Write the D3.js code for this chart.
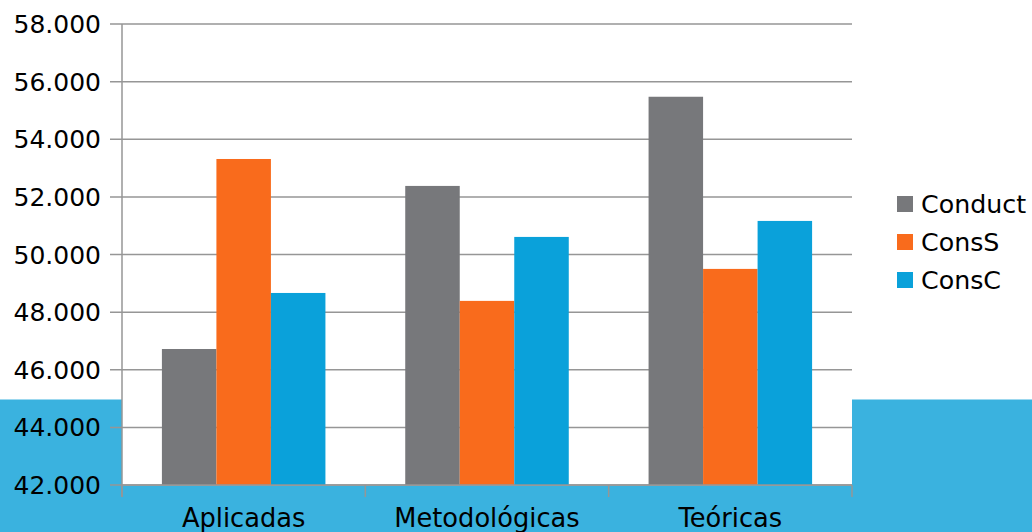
<!DOCTYPE html>
<html><head><meta charset="utf-8">
<script src="https://cdn.jsdelivr.net/npm/d3@7"></script>
<style>html,body{margin:0;padding:0;background:#fff;}svg{display:block;font-family:"DejaVu Sans",sans-serif;}</style>
</head><body>
<svg id="c" width="1032" height="532"></svg>
<script>
const categories = ["Aplicadas", "Metodológicas", "Teóricas"];
const seriesNames = ["Conduct", "ConsS", "ConsC"];
const conduct = [46720, 52380, 55475];
const consS = [53315, 48390, 49500];
const consC = [48665, 50610, 51165];
const yTicks = [42000, 44000, 46000, 48000, 50000, 52000, 54000, 56000, 58000];
const colors = ["#77787B", "#F96B1C", "#0AA1DA"];

(function () {
const values = [conduct, consS, consC];
const svg = d3.select("#c");
const W = 1032, H = 532;
const pL = 122, pR = 852, pT = 24, pB = 485;

// background band
svg.append("rect").attr("x", 0).attr("y", 399.5).attr("width", W).attr("height", H - 399.5).attr("fill", "#3AB2DF");
svg.append("rect").attr("x", pL).attr("y", pT).attr("width", pR - pL).attr("height", pB - pT + 0.5).attr("fill", "#fff");

const x = d3.scaleBand().domain(categories).range([pL, pR]).paddingInner(0.328).paddingOuter(0.164);
const xs = d3.scaleBand().domain(seriesNames).range([0, x.bandwidth()]);
const y = d3.scaleLinear().domain([42000, 58000]).range([pB, pT]);

const fmtTick = v => { const s = String(v); return s.slice(0, s.length - 3) + "." + s.slice(-3); };

// gridlines
svg.append("g").selectAll("line").data(yTicks).join("line")
  .attr("x1", pL - 12).attr("x2", pR).attr("y1", d => y(d)).attr("y2", d => y(d))
  .attr("stroke", "#969696").attr("stroke-width", 1.5);

// bars
const g = svg.append("g");
categories.forEach((c, i) => {
  seriesNames.forEach((s, j) => {
    g.append("rect")
      .attr("x", x(c) + xs(s)).attr("width", xs.bandwidth())
      .attr("y", y(values[j][i])).attr("height", y(42000) - y(values[j][i]))
      .attr("fill", colors[j]);
  });
});

// y axis line
svg.append("line").attr("x1", pL).attr("x2", pL).attr("y1", pT).attr("y2", pB + 12)
  .attr("stroke", "#969696").attr("stroke-width", 1.5);
// x axis line
svg.append("line").attr("x1", pL).attr("x2", pR).attr("y1", pB).attr("y2", pB)
  .attr("stroke", "#969696").attr("stroke-width", 1.5);
// x category ticks
const bounds = [pL].concat(categories.map(c => x(c) + x.bandwidth() + x.step() * x.paddingInner() / 2));
bounds[bounds.length - 1] = pR;
svg.append("g").selectAll("line").data(bounds).join("line")
  .attr("x1", d => d).attr("x2", d => d).attr("y1", pB).attr("y2", pB + 12)
  .attr("stroke", "#969696").attr("stroke-width", 1.5);

// y tick labels
svg.append("g").selectAll("text").data(yTicks).join("text")
  .attr("x", 101).attr("y", d => y(d)).attr("dy", "0.36em").attr("text-anchor", "end")
  .attr("font-size", 25).attr("fill", "#000").text(fmtTick);

// x labels
svg.append("g").selectAll("text").data(categories).join("text")
  .attr("x", d => x(d) + x.bandwidth() / 2).attr("y", 527).attr("text-anchor", "middle")
  .attr("font-size", 25.7).attr("fill", "#000").text(d => d);

// legend
const lg = svg.append("g");
seriesNames.forEach((s, j) => {
  const cy = 204 + j * 38;
  lg.append("rect").attr("x", 897).attr("y", cy - 8).attr("width", 16).attr("height", 16).attr("fill", colors[j]);
  lg.append("text").attr("x", 921).attr("y", cy).attr("dy", "0.36em").attr("font-size", 25.3).attr("fill", "#000").text(s);
});
})();
</script>
</body></html>
